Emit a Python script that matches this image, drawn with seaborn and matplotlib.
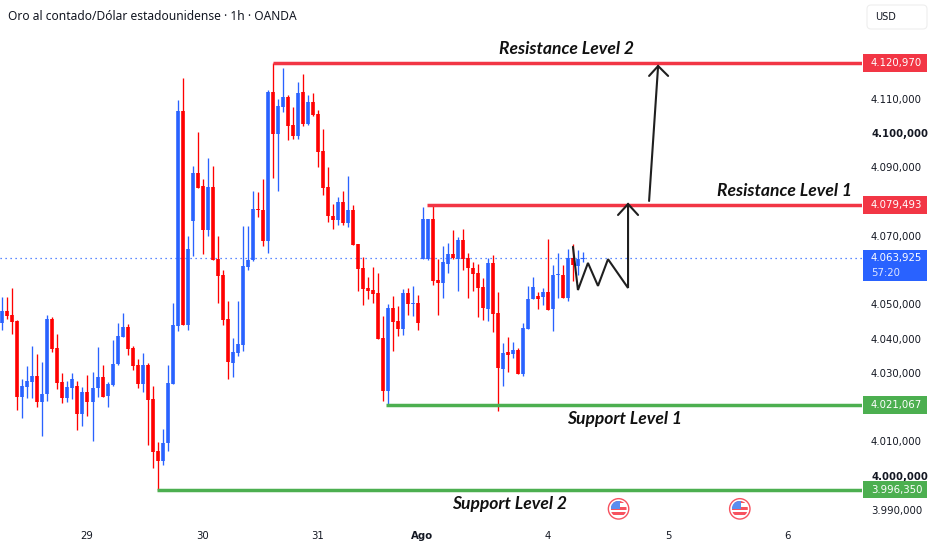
import matplotlib
matplotlib.use("Agg")
import matplotlib.pyplot as plt
from matplotlib.patches import Rectangle, Circle, FancyBboxPatch
from matplotlib.transforms import Affine2D, ScaledTranslation, blended_transform_factory
import pandas as pd
import seaborn as sns

direction = list("BRRRBBBRBB" "RRRBBRBRBB" "RBBBBRRRBR" "RRBBBBRBBR" "RBRRRRBBBB"
                 "BRRBRBBRRB" "RBRRRRRBRB" "RRRRRRRBRR" "BRBRBBRRBB" "RBRRRRRBRR"
                 "BRBRBBBRBR" "BBRBRBB")
body_top = [4048.47,4048.47,4047.30,4045.65,4026.67,4028.13,4029.59,4029.59,4024.33,4046.13,
 4046.13,4037.67,4027.84,4026.38,4028.71,4026.67,4024.92,4024.92,4026.08,4029.30,
 4029.30,4027.25,4033.09,4041.17,4043.80,4043.80,4037.67,4032.80,4032.80,4032.80,
 4022.87,4007.50,4009.83,4027.54,4044.38,4106.96,4106.96,4066.57,4088.66,4088.66,
 4084.87,4084.67,4084.67,4063.65,4058.98,4046.13,4036.50,4038.83,4061.61,4063.36,
 4078.25,4078.25,4077.96,4112.50,4112.50,4108.42,4111.04,4111.04,4102.87,4112.21,
 4112.50,4109.58,4109.58,4106.08,4095.08,4084.57,4076.20,4080.19,4080.19,4077.96,
 4077.96,4068.03,4061.02,4055.18,4054.60,4053.72,4040.58,4049.34,4049.34,4045.55,
 4053.72,4053.72,4050.80,4050.80,4075.33,4075.33,4075.33,4057.52,4062.77,4065.11,
 4065.11,4069.20,4069.20,4063.94,4061.02,4059.56,4055.48,4062.48,4062.48,4047.88,
 4036.21,4036.50,4037.08,4037.08,4043.51,4051.97,4055.48,4052.85,4054.01,4054.01,
 4058.98,4059.27,4058.98,4063.84,4063.84,4063.65,4063.925]
body_bottom = [4045.06,4047.01,4045.35,4023.26,4023.26,4026.38,4027.84,4021.80,4021.80,4024.14,
 4037.47,4027.54,4022.97,4022.97,4026.08,4018.40,4018.40,4021.80,4021.80,4025.89,
 4023.46,4023.55,4026.96,4032.90,4040.97,4037.47,4032.51,4027.25,4027.25,4022.39,
 4007.30,4004.67,4004.67,4009.93,4027.25,4044.19,4044.38,4044.38,4074.74,4084.38,
 4072.12,4072.12,4063.36,4058.69,4045.84,4033.58,4033.38,4036.21,4038.64,4061.31,
 4063.26,4077.96,4068.91,4068.91,4100.05,4100.05,4108.13,4102.58,4099.66,4099.66,
 4103.16,4103.16,4105.79,4094.79,4084.38,4076.20,4075.04,4075.04,4074.16,4074.16,
 4067.74,4060.73,4054.89,4054.31,4053.43,4040.39,4025.21,4025.21,4045.25,4043.21,
 4043.21,4050.51,4050.51,4044.96,4063.65,4063.65,4057.23,4056.64,4056.64,4062.19,
 4063.94,4063.65,4063.65,4061.02,4059.27,4055.18,4049.34,4049.05,4047.59,4031.92,
 4031.63,4035.62,4035.91,4030.17,4030.17,4043.21,4051.97,4051.97,4052.56,4048.76,
 4049.05,4058.98,4052.26,4052.26,4061.90,4061.61,4063.55]
high = [4052.55,4052.55,4055.18,4045.84,4028.71,4032.51,4038.35,4036.01,4033.68,4047.30,
 4046.72,4041.75,4030.46,4028.13,4030.46,4028.13,4026.38,4029.88,4030.76,4038.05,
 4032.80,4027.84,4040.00,4044.96,4047.88,4044.67,4038.35,4034.55,4036.21,4033.38,
 4026.67,4010.12,4013.92,4032.80,4050.80,4110.17,4116.59,4070.37,4090.70,4100.63,
 4087.01,4093.04,4090.70,4070.37,4060.44,4051.39,4040.58,4051.39,4073.28,4073.28,
 4083.50,4083.21,4087.01,4113.09,4120.97,4110.46,4119.51,4111.63,4108.13,4115.42,
 4117.76,4111.63,4112.21,4107.25,4101.70,4090.41,4079.71,4081.75,4083.50,4087.88,
 4079.42,4068.03,4064.23,4058.39,4061.31,4059.56,4047.01,4050.51,4052.85,4049.93,
 4054.89,4055.18,4055.77,4053.14,4078.83,4075.33,4079.42,4063.65,4067.44,4068.32,
 4072.12,4070.07,4072.41,4065.40,4062.77,4062.19,4058.10,4063.94,4064.82,4054.01,
 4039.13,4040.88,4039.42,4037.67,4044.96,4055.77,4058.39,4054.01,4055.18,4069.49,
 4061.90,4065.40,4061.90,4066.57,4068.03,4066.28,4065.69]
low = [4043.02,4046.13,4041.85,4019.47,4017.13,4023.16,4022.97,4020.34,4011.88,4022.09,
 4036.59,4025.79,4021.70,4022.00,4022.68,4013.82,4014.99,4017.72,4010.51,4023.26,
 4023.26,4020.54,4026.67,4032.80,4040.97,4035.72,4031.34,4026.08,4024.92,4009.25,
 4002.63,3996.35,4003.51,4007.59,4027.25,4042.73,4044.38,4043.02,4064.53,4084.28,
 4065.11,4070.37,4063.36,4050.90,4044.38,4028.71,4029.30,4035.43,4036.79,4060.44,
 4063.07,4075.91,4067.44,4065.40,4087.20,4083.41,4106.67,4098.49,4098.78,4098.78,
 4102.58,4102.87,4105.50,4090.61,4082.34,4074.45,4072.41,4073.58,4073.58,4072.99,
 4067.74,4054.31,4050.22,4051.97,4050.80,4040.39,4022.09,4021.02,4036.79,4041.17,
 4041.46,4047.30,4047.01,4042.92,4063.65,4063.36,4056.06,4047.30,4052.26,4059.56,
 4063.65,4054.31,4060.44,4052.26,4054.31,4046.72,4045.84,4045.55,4042.34,4019.18,
 4026.67,4030.66,4034.75,4030.07,4029.49,4043.21,4051.97,4049.05,4050.22,4048.76,
 4042.63,4052.26,4052.26,4051.39,4057.23,4058.98,4062.68]

res2, res1, sup1, sup2, last_price = 4120.970, 4079.493, 4021.067, 3996.350, 4063.925
res2_start, res1_start, sup1_start, sup2_start = 54, 84.8, 76.6, 30.9

price_ticks = [3990, 4000, 4010, 4030, 4040, 4050, 4070, 4090, 4100, 4110]
bold_price_ticks = [4000, 4100]
price_labels = ["3.990,000", "4.000,000", "4.010,000", "4.030,000", "4.040,000", "4.050,000",
                "4.070,000", "4.090,000", "4.100,000", "4.110,000"]
date_ticks = [16.9, 40.05, 63.0, 83.8, 108.9, 132.9, 156.8]
date_labels = ["29", "30", "31", "Ago", "4", "5", "6"]

path_x = [113.9, 114.9, 116.9, 118.9, 120.9, 124.9, 124.9]
path_y = [4067.2, 4054.6, 4062.5, 4055.8, 4063.6, 4055.2, 4079.7]
head1_x = [122.9, 124.9, 126.9]
head1_y = [4076.5, 4079.7, 4076.5]
path2_x = [129.1, 130.9]
path2_y = [4080.6, 4120.0]
head2_x = [129.1, 130.9, 132.9]
head2_y = [4117.1, 4120.0, 4117.1]

event_x = [123.0, 147.2]
event_y = 3990.7

BLUE, RED, GREEN, LINE_RED = "#2962FF", "#FF0000", "#4CAF50", "#F23645"
W, H = 932, 550
LEFT, RIGHT = -0.465, 171.6

sns.set_theme(style="white", rc={"font.family": "DejaVu Sans"})
fig = plt.figure(figsize=(W / 100, H / 100), dpi=100, facecolor="white")
ax = fig.add_axes([0, 30 / H, 862 / W, 520 / H])
ax.set_facecolor("white")

idx = list(range(len(direction)))
colors = [BLUE if d == "B" else RED for d in direction]
palette = {BLUE: BLUE, RED: RED}
wicks = pd.DataFrame({"i": idx * 2, "p": high + low, "c": colors * 2})
bodies = pd.DataFrame({"i": idx * 2, "p": body_top + body_bottom, "c": colors * 2})
sns.lineplot(data=wicks, x="i", y="p", hue="c", units="i", estimator=None, sort=False,
             palette=palette, legend=False, linewidth=0.95, solid_capstyle="butt", ax=ax)
sns.lineplot(data=bodies, x="i", y="p", hue="c", units="i", estimator=None, sort=False,
             palette=palette, legend=False, linewidth=2.6, solid_capstyle="butt", ax=ax)

ax.plot([LEFT, RIGHT], [last_price, last_price], color=BLUE, lw=0.9, ls=(0, (1, 3)), zorder=1)
for start, level, col in [(res2_start, res2, LINE_RED), (res1_start, res1, LINE_RED),
                          (sup1_start, sup1, GREEN), (sup2_start, sup2, GREEN)]:
    ax.plot([start, RIGHT], [level, level], color=col, lw=2.5, solid_capstyle="butt", zorder=4)

for xs, ys in [(path_x, path_y), (head1_x, head1_y), (path2_x, path2_y), (head2_x, head2_y)]:
    ax.plot(xs, ys, color="#1f1f1f", lw=1.5, solid_joinstyle="miter", zorder=5)

ax.set_xlim(LEFT, RIGHT)
ax.set_ylim(3987.45, 4139.27)
ax.set_xlabel("")
ax.set_ylabel("")
sns.despine(ax=ax, left=True, bottom=True, right=True, top=True)

ax.yaxis.tick_right()
ax.set_yticks(price_ticks, price_labels)
ax.tick_params(axis="y", length=0, pad=6.5, labelsize=7.3, labelcolor="#131722", right=False)
lift = ScaledTranslation(0, 0.015, fig.dpi_scale_trans)
for t, v in zip(ax.get_yticklabels(), price_ticks):
    t.set_transform(t.get_transform() + lift)
    if v in bold_price_ticks:
        t.set_fontweight("bold")
ax.set_xticks(date_ticks, date_labels)
ax.tick_params(axis="x", length=0, pad=8, labelsize=7.3, labelcolor="#131722", bottom=False)
ax.get_xticklabels()[3].set_fontweight("bold")

annot_font = dict(family="Lato", style="italic", weight="bold", fontsize=12.6, color="#111111",
                  ha="center", va="center", zorder=6)
ax.text(112.7, 4125.0, "Resistance Level 2", **annot_font)
ax.text(156.2, 4083.5, "Resistance Level 1", **annot_font)
ax.text(124.1, 4016.9, "Support Level 1", **annot_font)
ax.text(101.2, 3992.1, "Support Level 2", **annot_font)

# price badges on the scale
px = Affine2D().scale(1 / W, -1 / H).translate(0, 1) + fig.transFigure
blend = blended_transform_factory(px, ax.transData)
badge_text = blend + ScaledTranslation(0, 0.01, fig.dpi_scale_trans)
for level, col, label in [(res2, LINE_RED, "4.120,970"), (res1, LINE_RED, "4.079,493"),
                          (sup1, GREEN, "4.021,067"), (sup2, GREEN, "3.996,350")]:
    fig.add_artist(Rectangle((863, level - 2.6), 64, 5.2, transform=blend, facecolor=col, edgecolor="none"))
    fig.text(871, level, label, transform=badge_text, color="white", fontsize=7.3, ha="left", va="center_baseline")
fig.add_artist(Rectangle((863, last_price - 6.7), 64, 9.1, transform=blend, facecolor=BLUE, edgecolor="none"))
fig.text(871, last_price, "4.063,925", transform=badge_text, color="white", fontsize=7.3, ha="left", va="center_baseline")
fig.text(871, last_price - 4.5, "57:20", transform=badge_text, color="#dfe6ff", fontsize=7.3, ha="left", va="center_baseline")

# header
fig.text(8 / W, 1 - 16 / H, "Oro al contado/Dólar estadounidense · 1h · OANDA", family="Noto Sans",
         fontsize=8.65, weight="medium", color="#131722", ha="left", va="center")
fig.add_artist(FancyBboxPatch((867, 5), 60, 24, boxstyle="round,pad=0,rounding_size=4", transform=px,
                              facecolor="white", edgecolor="#eeeeee", lw=0.8))
fig.text(875 / W, 1 - 17 / H, "USD", fontsize=7, color="#131722", ha="left", va="center")

# economic event flags
xpx = lambda v: 2.33 + 5.01 * v
for ev in event_x:
    cx, cy = xpx(ev), 477 - (event_y - 4000) * 3.425
    outer = Circle((cx, cy), 10.2, transform=px, facecolor="white", edgecolor="#F7525F", lw=1.0, zorder=3)
    fig.add_artist(outer)
    inner = Circle((cx, cy), 8, transform=px, facecolor="white", edgecolor="none", zorder=4)
    fig.add_artist(inner)
    for dy, hgt in [(-7.5, 2), (-1.5, 2.2), (3.5, 2.2)]:
        r = Rectangle((cx - 8, cy + dy), 16, hgt, transform=px, facecolor="#F7525F", edgecolor="none", zorder=5)
        fig.add_artist(r)
        r.set_clip_path(inner)
    b = Rectangle((cx - 8, cy - 8), 9, 8, transform=px, facecolor="#5B8DEF", edgecolor="none", zorder=6)
    fig.add_artist(b)
    b.set_clip_path(inner)

fig.savefig("out.png", dpi=100, facecolor="white")
